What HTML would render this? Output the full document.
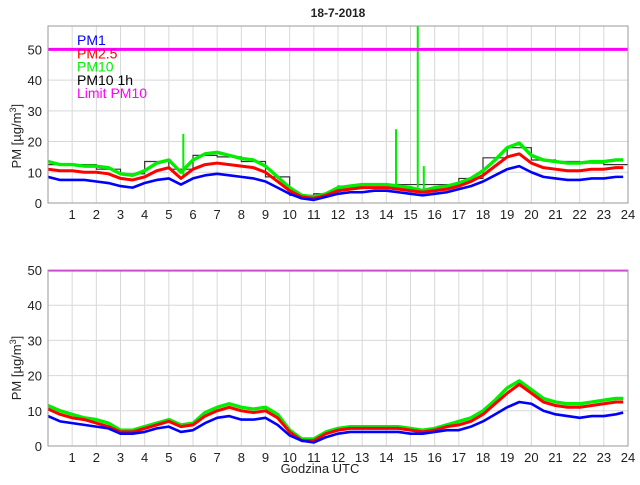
<!DOCTYPE html>
<html><head><meta charset="utf-8"><style>
body{margin:0;background:#fff}
svg text{font-family:"Liberation Sans",Arial,sans-serif;font-size:13px;fill:#222}
</style></head><body>
<svg id="chart" width="640" height="480" viewBox="0 0 640 480" xmlns="http://www.w3.org/2000/svg">
<rect width="640" height="480" fill="#fff"/>
<text x="338" y="17" text-anchor="middle" style="font-weight:bold;font-size:12px">18-7-2018</text>
<g id="top"></g>
<g id="bot"></g>
<text x="320" y="473" text-anchor="middle">Godzina UTC</text>
</svg>
<script>
const hours=[];for(let i=0;i<=48;i++)hours.push(i/2);
const xTicks=[1,2,3,4,5,6,7,8,9,10,11,12,13,14,15,16,17,18,19,20,21,22,23,24];
const yTicks=[0,10,20,30,40,50];
const limitPM10=50;
const topPM1=[8.5,7.5,7.5,7.5,7,6.5,5.5,5,6.5,7.5,8,6,8,9,9.5,9,8.5,8,7,5,3,1.5,1,2,3,3.5,3.5,4,4,3.5,3,2.5,3,3.5,4.5,5.5,7,9,11,12,10,8.5,8,7.5,7.5,8,8,8.5,8.5];
const topPM25=[11,10.5,10.5,10,10,9.5,8,7.5,8.5,10.5,11.5,8,11,12.5,13,12.5,12,11.5,10,7,4,2,1.5,2.5,4,4.5,5,5,5,4.5,4,3.5,4,4.5,5.5,7,9,12,15,16,13,11.5,11,10.5,10.5,11,11,11.5,11.5];
const topPM10=[13.5,12.5,12.5,12,12,11.5,9.5,9,10.5,13,14,10,14,16,16.5,15.5,14.5,14,12,8.5,5,2.5,2,3,5,5.5,6,6,6,5.5,5,4,5,5.5,6.5,8,10.5,14,18,19.5,15.5,14,13.5,13,13,13.5,13.5,14,14];
const spikeTimes=[5.6,14.4,15.3,15.55];
const spikeValues=[22.5,24,60,12];
const spikeBase=[9,5.5,5,4];
const hourStarts=[0,1,2,3,4,5,6,7,8,9,10,11,12,13,14,15,16,17,18,19,20,21,22,23];
const pm10Hourly=[12.5,12.5,11,9.5,13.5,11,15.5,15,13.5,8.5,2.5,3,5.5,6,6,6,6,8,14.7,18,14,13.5,13,12.5];
const botPM1=[8.5,7,6.5,6,5.5,5,3.5,3.5,4,5,5.5,4,4.5,6.5,8,8.5,7.5,7.5,8,6,3,1.5,1,2.5,3.5,4,4,4,4,4,3.5,3.5,4,4.5,4.5,5.5,7,9,11,12.5,12,10,9,8.5,8,8.5,8.5,9,9.5];
const botPM25=[10.5,9,8,7.5,6.5,5.5,4,4,5,6,7,5.5,6,8.5,10,11,10,9.5,10,8,4,1.5,1.5,3.5,4.5,5,5,5,5,5,4.5,4,4.5,5.5,6,7,9,12,15,17.5,15,12.5,11.5,11,11,11.5,12,12.5,12.5];
const botPM10=[11.5,10,9,8,7.5,6.5,4.5,4.5,5.5,6.5,7.5,6,6.5,9.5,11,12,11,10.5,11,9,4.5,2,2,4,5,5.5,5.5,5.5,5.5,5.5,5,4.5,5,6,7,8,10,13,16.5,18.5,16,13.5,12.5,12,12,12.5,13,13.5,13.5];
const legendLabels=['PM1','PM2.5','PM10','PM10 1h','Limit PM10'];
const legendColors=['#0000ff','#ff0000','#00ee00','#000000','#ff00ff'];
const NS='http://www.w3.org/2000/svg';
function mk(p,t,a){const e=document.createElementNS(NS,t);for(const k in a)e.setAttribute(k,a[k]);p.appendChild(e);return e;}
function panel(g,top,bottom,ymax,pm1,pm25,pm10,extra){
  const L=48,R=628;
  const sx=v=>L+(R-L)*v/24, sy=v=>bottom-(bottom-top)*v/ymax;
  const clipId='c'+top;
  const cp=mk(g,'clipPath',{id:clipId});mk(cp,'rect',{x:L,y:top,width:R-L,height:bottom-top});
  for(const t of xTicks){const l=mk(g,'line',{x1:sx(t),x2:sx(t),y1:top,y2:bottom,stroke:'#d8d8d8','stroke-width':1});
    
    const tx=mk(g,'text',{x:sx(t),y:bottom+16,'text-anchor':'middle'});tx.textContent=t;
    }
  for(const v of yTicks){const l=mk(g,'line',{x1:L,x2:R,y1:sy(v),y2:sy(v),stroke:'#d8d8d8','stroke-width':1});
    
    const tx=mk(g,'text',{x:L-6,y:sy(v)+5,'text-anchor':'end'});tx.textContent=v;
    }
  const s=mk(g,'g',{'clip-path':'url(#'+clipId+')'});
  const line=(arr,col,w,name)=>{const p=mk(s,'polyline',{points:arr.map((v,i)=>sx(Math.min(hours[i],23.8))+','+sy(v)).join(' '),fill:'none',stroke:col,'stroke-width':w,'stroke-linejoin':'round'});
    };
  if(extra){
    let pts=[];hourStarts.forEach((h,i)=>{pts.push(sx(h)+','+sy(pm10Hourly[i]));pts.push(sx(h+1)+','+sy(pm10Hourly[i]));});
    const st=mk(s,'polyline',{points:pts.join(' '),fill:'none',stroke:'#333','stroke-width':1.2});
    
  }
  line(pm10,'#00ee00',3.4,'pm10-series');
  if(extra){spikeTimes.forEach((t,i)=>{const sp=mk(s,'line',{x1:sx(t),x2:sx(t),y1:sy(spikeBase[i]),y2:sy(spikeValues[i]),stroke:'#00ee00','stroke-width':2});
    });}
  line(pm25,'#ff0000',3,'pm25-series');
  line(pm1,'#0000ff',2.6,'pm1-series');
  const lim=mk(s,'line',{x1:L,x2:R,y1:sy(limitPM10),y2:sy(limitPM10),stroke:'#ff00ff','stroke-width':3});
  
  const fr=mk(g,'rect',{x:L,y:top,width:R-L,height:bottom-top,fill:'none',stroke:'#999','stroke-width':1});
  
  const yt=mk(g,'text',{transform:'translate(21,'+((sy(0)+sy(50))/2+10)+') rotate(-90)','text-anchor':'middle','font-size':'12'});
  yt.innerHTML='PM [µg/m<tspan dy="-5" font-size="9">3</tspan><tspan dy="5">]</tspan>';
  
}
panel(document.getElementById('top'),26,203,57.6,topPM1,topPM25,topPM10,true);
panel(document.getElementById('bot'),270,446,50,botPM1,botPM25,botPM10,false);
const lg=document.getElementById('top');
legendLabels.forEach((lab,i)=>{const t=mk(lg,'text',{x:77,y:45+i*13.3,fill:legendColors[i]});t.textContent=lab;t.style.fill=legendColors[i];t.style.fontSize='14px';
  });
</script>
</body></html>
